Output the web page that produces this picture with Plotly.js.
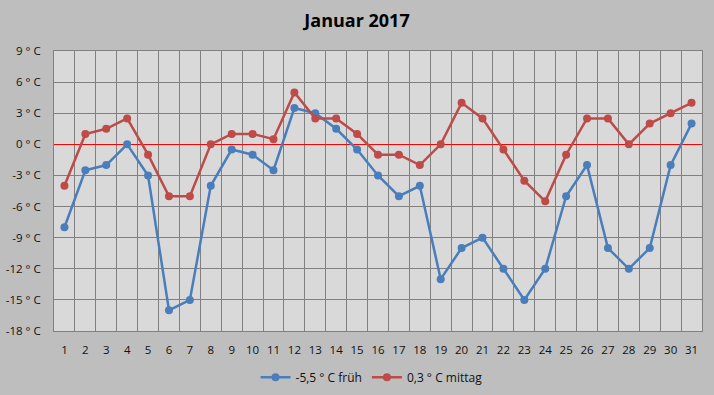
<!DOCTYPE html>
<html>
<head>
<meta charset="utf-8">
<script src="https://cdn.plot.ly/plotly-3.0.1.min.js"></script>
<style>html,body{margin:0;padding:0;background:#BEBEBE;}#chart{width:714px;height:395px;}</style>
</head>
<body>
<div id="chart"></div>
<script>
const days = ['1','2','3','4','5','6','7','8','9','10','11','12','13','14','15','16','17','18','19','20','21','22','23','24','25','26','27','28','29','30','31'];
const frueh = [-8,-2.5,-2,0,-3,-16,-15,-4,-0.5,-1,-2.5,3.5,3,1.5,-0.5,-3,-5,-4,-13,-10,-9,-12,-15,-12,-5,-2,-10,-12,-10,-2,2];
const mittag = [-4,1,1.5,2.5,-1,-5,-5,0,1,1,0.5,5,2.5,2.5,1,-1,-1,-2,0,4,2.5,-0.5,-3.5,-5.5,-1,2.5,2.5,0,2,3,4];
const yTickVals = [-18,-15,-12,-9,-6,-3,0,3,6,9];
const yTickText = yTickVals.map(v => v + ' ° C');
const seriesNames = ['-5,5 ° C früh', '0,3 ° C mittag'];

const traces = [
  {x: days, y: frueh, name: seriesNames[0], type: 'scatter', mode: 'lines+markers',
   line: {color: '#4A7EBB', width: 2.5}, marker: {color: '#4A7EBB', size: 8}},
  {x: days, y: mittag, name: seriesNames[1], type: 'scatter', mode: 'lines+markers',
   line: {color: '#BE4B48', width: 2.5}, marker: {color: '#BE4B48', size: 8}}
];

const layout = {
  width: 714, height: 395,
  paper_bgcolor: '#BEBEBE', plot_bgcolor: '#D9D9D9',
  margin: {l: 54, r: 12, t: 51, b: 64},
  font: {family: 'Open Sans, sans-serif', size: 11.5, color: '#111'},
  title: {text: 'Januar 2017', x: 0.5, xanchor: 'center', y: 0.948, yanchor: 'middle',
          font: {family: 'Open Sans, sans-serif', size: 18, color: '#000', weight: 'bold'}},
  xaxis: {type: 'category', tickson: 'boundaries', showgrid: true, gridcolor: '#808080', gridwidth: 1,
          range: [-0.5, 30.5], autorange: false,
          ticks: '', showline: true, linecolor: '#808080', mirror: true, ticklabelstandoff: 8,
          tickangle: 0, automargin: false},
  yaxis: {range: [-18, 9], tickvals: yTickVals, ticktext: yTickText, showgrid: true, automargin: false,
          gridcolor: '#808080', gridwidth: 1, zeroline: true, zerolinecolor: '#FF0000', zerolinewidth: 1.5,
          showline: true, linecolor: '#808080', mirror: true, ticks: '', ticklabelstandoff: 10},
  legend: {orientation: 'h', x: 0.49, xanchor: 'center', yref: 'container', y: 0.045, yanchor: 'middle',
           bgcolor: 'rgba(0,0,0,0)', font: {size: 12}},
  showlegend: true
};

Plotly.newPlot('chart', traces, layout, {displayModeBar: false, staticPlot: true});
</script>
</body>
</html>
